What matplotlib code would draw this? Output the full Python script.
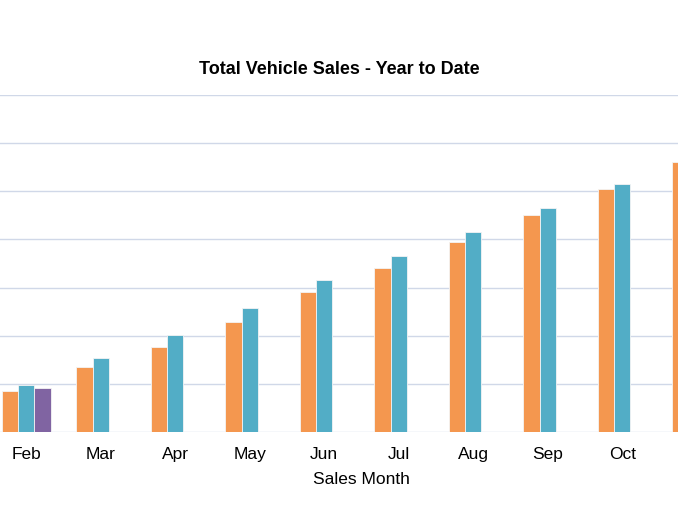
import matplotlib.pyplot as plt
import numpy as np

plt.rcParams['font.family'] = ['Liberation Sans', 'DejaVu Sans']

# visible part of the chart (Jan / Dec fall outside the crop)
months = ['Feb', 'Mar', 'Apr', 'May', 'Jun', 'Jul', 'Aug', 'Sep', 'Oct', 'Nov']
sales_a = [850, 1350, 1770, 2290, 2910, 3410, 3950, 4510, 5050, 5610]
sales_b = [980, 1540, 2020, 2580, 3160, 3660, 4160, 4660, 5150, None]
sales_c = [910, None, None, None, None, None, None, None, None, None]

col_a = '#f4974f'
col_b = '#52adc6'
col_c = '#8064a2'
grid_col = '#d0d8e8'

fig = plt.figure(figsize=(6.78, 5.09), dpi=100)
ax = fig.add_axes([0, 77 / 509, 1, 337 / 509])

x = np.arange(len(months))
w = 0.219

def draw(vals, off, col):
    xs = [xi + off for xi, v in zip(x, vals) if v is not None]
    ys = [v for v in vals if v is not None]
    ax.bar(xs, ys, width=w, color=col, edgecolor='#f4f4f4', linewidth=0.6, zorder=3)

draw(sales_a, -w, col_a)
draw(sales_b, 0, col_b)
draw(sales_c, w, col_c)

ax.set_yticks(np.arange(0, 7001, 1000))
ax.yaxis.grid(True, color=grid_col, linewidth=1, zorder=0)
ax.set_yticklabels([])
ax.tick_params(axis='y', length=0)
ax.set_xticks(x)
ax.set_xticklabels(months, fontsize=12.5)
ax.tick_params(axis='x', length=0, pad=11)
for s in ax.spines.values():
    s.set_visible(False)
# limits after the ticks, so the Nov tick does not widen the view
ax.set_xlim(-26.2 / 74.5, (678 - 26.2) / 74.5)
ax.set_ylim(0, 7000)

ax.set_xlabel('Sales Month', fontsize=12.5)
ax.xaxis.set_label_coords(361 / 678, -40 / 337)

fig.text(0.5, 1 - 69 / 509, 'Total Vehicle Sales - Year to Date', ha='center', va='center',
         fontsize=13, fontweight='bold')

plt.savefig('out.png', dpi=100)
